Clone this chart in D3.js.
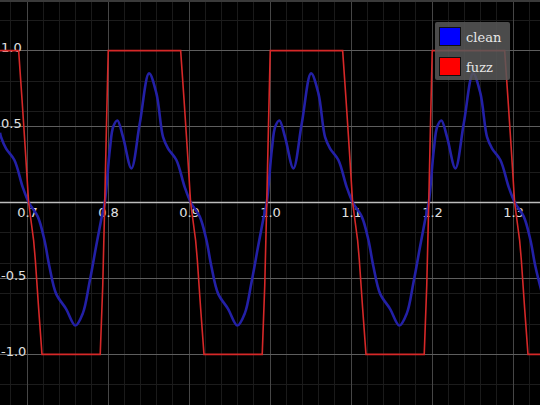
<!DOCTYPE html>
<html>
<head>
<meta charset="utf-8">
<script src="https://cdn.jsdelivr.net/npm/d3@7"></script>
<style>
  html, body { margin: 0; padding: 0; background: #000; }
  svg { display: block; }
</style>
</head>
<body>
<svg width="540" height="405"></svg>
<script>
// tick labels
const xTicks = [0.7, 0.8, 0.9, 1.0, 1.1, 1.2, 1.3];
const yTicks = [1.0, 0.5, -0.5, -1.0];

// clean signal as [time, value]
const clean = [
  [0.6667, 0.46], [0.6680, 0.43], [0.6742, 0.355], [0.6844, 0.28], [0.6948, 0.10],
  [0.7022, 0], [0.7133, -0.093], [0.7215, -0.247], [0.7276, -0.42], [0.7359, -0.6],
  [0.7482, -0.70], [0.7597, -0.81], [0.7689, -0.73], [0.7770, -0.53], [0.7853, -0.29],
  [0.7915, -0.115],
  [0.796, 0], [0.8022, 0.345], [0.8065, 0.50], [0.8116, 0.54], [0.8186, 0.43],
  [0.8289, 0.225], [0.8392, 0.52], [0.8507, 0.85], [0.8597, 0.72], [0.8680, 0.43],
  [0.8742, 0.355], [0.8844, 0.28], [0.8948, 0.10], [0.9022, 0], [0.9133, -0.093],
  [0.9215, -0.247], [0.9276, -0.42], [0.9359, -0.6], [0.9482, -0.70], [0.9597, -0.81],
  [0.9689, -0.73], [0.9770, -0.53], [0.9853, -0.29], [0.9915, -0.115],
  [0.996, 0], [1.0022, 0.345], [1.0065, 0.50], [1.0116, 0.54], [1.0186, 0.43],
  [1.0289, 0.225], [1.0392, 0.52], [1.0507, 0.85], [1.0597, 0.72], [1.0680, 0.43],
  [1.0742, 0.355], [1.0844, 0.28], [1.0948, 0.10], [1.1022, 0], [1.1133, -0.093],
  [1.1215, -0.247], [1.1276, -0.42], [1.1359, -0.6], [1.1482, -0.70], [1.1597, -0.81],
  [1.1689, -0.73], [1.1770, -0.53], [1.1853, -0.29], [1.1915, -0.115],
  [1.196, 0], [1.2022, 0.345], [1.2065, 0.50], [1.2116, 0.54], [1.2186, 0.43],
  [1.2289, 0.225], [1.2392, 0.52], [1.2507, 0.85], [1.2597, 0.72], [1.2680, 0.43],
  [1.2742, 0.355], [1.2844, 0.28], [1.2948, 0.10], [1.3022, 0], [1.3133, -0.093],
  [1.3215, -0.247], [1.3276, -0.42], [1.3359, -0.6]
];

// fuzz signal (clipped) as [time, value]
const fuzz = [
  [0.6667, 1], [0.6897, 1], [0.6939, 0.675], [0.6979, 0.35], [0.702, 0],
  [0.7082, -0.25], [0.7103, -0.38], [0.7144, -0.7], [0.7185, -1],
  [0.7904, -1], [0.7935, -0.55], [0.796, 0], [0.7983, 0.55], [0.8003, 1],
  [0.8897, 1], [0.8939, 0.675], [0.8979, 0.35], [0.902, 0],
  [0.9082, -0.25], [0.9103, -0.38], [0.9144, -0.7], [0.9185, -1],
  [0.9904, -1], [0.9935, -0.55], [0.996, 0], [0.9983, 0.55], [1.0003, 1],
  [1.0897, 1], [1.0939, 0.675], [1.0979, 0.35], [1.102, 0],
  [1.1082, -0.25], [1.1103, -0.38], [1.1144, -0.7], [1.1185, -1],
  [1.1904, -1], [1.1935, -0.55], [1.196, 0], [1.1983, 0.55], [1.2003, 1],
  [1.2897, 1], [1.2939, 0.675], [1.2979, 0.35], [1.302, 0],
  [1.3082, -0.25], [1.3103, -0.38], [1.3144, -0.7], [1.3185, -1],
  [1.3334, -1]
];

const legendItems = ["clean", "fuzz"];
const legendColors = ["#0000ff", "#ff0000"];

var width = 540;
var height = 405;
var svg = d3.select("svg");

var x = d3.scaleLinear().domain([2 / 3, 4 / 3]).range([0, width]);
var y = d3.scaleLinear().domain([-4 / 3, 4 / 3]).range([height, 0]);

svg.append("rect").attr("width", width).attr("height", height).attr("fill", "#000");

// minor grid
var grid = svg.append("g").attr("shape-rendering", "crispEdges");
grid.selectAll("line.vminor")
    .data(d3.range(0.68, 1.33, 0.02))
    .enter().append("line")
    .attr("x1", d => x(d)).attr("x2", d => x(d))
    .attr("y1", 0).attr("y2", height)
    .attr("stroke", "#1a1a1a").attr("stroke-width", 1);
grid.selectAll("line.hminor")
    .data([-1.2, -0.8, -0.6, -0.4, -0.2, 0.2, 0.4, 0.6, 0.8, 1.2])
    .enter().append("line")
    .attr("x1", 0).attr("x2", width)
    .attr("y1", d => y(d)).attr("y2", d => y(d))
    .attr("stroke", "#1c1c1c").attr("stroke-width", 1);

// major grid
grid.selectAll("line.vmajor")
    .data(xTicks)
    .enter().append("line")
    .attr("x1", d => x(d)).attr("x2", d => x(d))
    .attr("y1", 0).attr("y2", height)
    .attr("stroke", "#464646").attr("stroke-width", 1);
grid.selectAll("line.hmajor")
    .data(yTicks)
    .enter().append("line")
    .attr("x1", 0).attr("x2", width)
    .attr("y1", d => y(d)).attr("y2", d => y(d))
    .attr("stroke", "#5e5e5e").attr("stroke-width", 1);

// top frame strip
svg.append("rect").attr("x", 0).attr("y", 0).attr("width", width).attr("height", 2)
    .attr("fill", "#3a3a3a");

// zero axis
svg.append("line")
    .attr("x1", 0).attr("x2", width)
    .attr("y1", y(0)).attr("y2", y(0))
    .attr("stroke", "#bdbdbd").attr("stroke-width", 1.5);

// tick labels
var xAxis = svg.append("g")
    .attr("transform", `translate(0,${y(0)})`)
    .call(d3.axisBottom(x).tickValues(xTicks).tickSize(0).tickPadding(5)
        .tickFormat(d => d.toFixed(1)));
xAxis.select(".domain").remove();

var yAxis = svg.append("g")
    .attr("transform", "translate(0,0)")
    .call(d3.axisRight(y).tickValues(yTicks).tickSize(0).tickPadding(1)
        .tickFormat(d => d.toFixed(1)));
yAxis.select(".domain").remove();
yAxis.selectAll("text").attr("dy", "0.1em");

svg.selectAll(".tick text")
    .attr("fill", "#e0e0e0")
    .attr("font-family", "DejaVu Sans, sans-serif")
    .attr("font-size", 13);

// lines
var line = d3.line()
    .x(d => x(d[0]))
    .y(d => y(d[1]));

svg.append("path")
    .datum(clean)
    .attr("fill", "none")
    .attr("stroke", "#2320a6")
    .attr("stroke-width", 2.6)
    .attr("stroke-linejoin", "round")
    .attr("d", line.curve(d3.curveCatmullRom.alpha(0.5)));

svg.append("path")
    .datum(fuzz)
    .attr("fill", "none")
    .attr("stroke", "#d62828")
    .attr("stroke-width", 1.6)
    .attr("d", d3.line().x(d => x(d[0])).y(d => y(d[1])));

// legend
var legend = svg.append("g").attr("transform", "translate(435,22)");
legend.append("rect")
    .attr("width", 75).attr("height", 58).attr("rx", 2)
    .attr("fill", "rgba(88,88,88,0.85)");
var item = legend.selectAll("g.item")
    .data(legendItems)
    .enter().append("g")
    .attr("transform", (d, i) => `translate(0,${i * 30})`);
item.append("rect")
    .attr("x", 4.5).attr("y", 5.5).attr("width", 21).attr("height", 18)
    .attr("fill", (d, i) => legendColors[i])
    .attr("stroke", "#111").attr("stroke-width", 1);
item.append("text")
    .attr("x", 31).attr("y", 19.5)
    .attr("fill", "#e6e6e6")
    .attr("font-family", "DejaVu Serif, serif")
    .attr("font-size", 13)
    .text(d => d);
</script>
</body>
</html>
